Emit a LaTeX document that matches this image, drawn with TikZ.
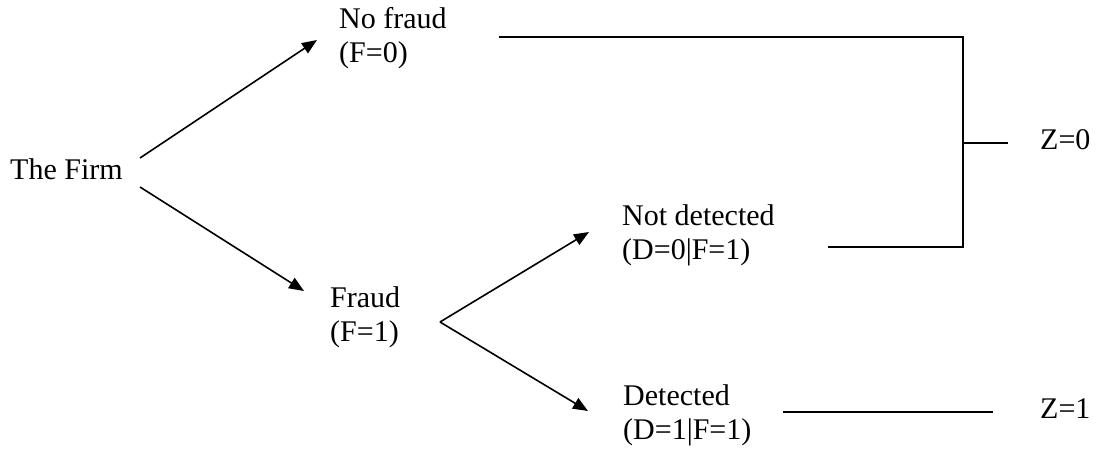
\documentclass[tikz,border=0pt]{standalone}
\usepackage{fontspec}
\setmainfont{Liberation Serif}
\usetikzlibrary{arrows.meta}
\begin{document}
\begin{tikzpicture}[x=1pt,y=-1pt,
  lbl/.style={anchor=base west,inner sep=0pt,font=\fontsize{30}{34}\selectfont},
  arr/.style={line width=1.6pt,-{Triangle[length=15pt,width=12pt]}},
  ln/.style={line width=1.8pt}]
\useasboundingbox (0,0) rectangle (1101,448);
% labels
\node[lbl] (firm) at (10,179) {The Firm};
\node[lbl] (nf1) at (339,28) {No fraud};
\node[lbl] (nf2) at (339,62) {(F=0)};
\node[lbl] (fr1) at (330,307) {Fraud};
\node[lbl] (fr2) at (330,341) {(F=1)};
\node[lbl] (nd1) at (622,225) {Not detected};
\node[lbl] (nd2) at (622,259) {(D=0|F=1)};
\node[lbl] (de1) at (623,405) {Detected};
\node[lbl] (de2) at (623,439) {(D=1|F=1)};
\node[lbl] (z0) at (1040,149) {Z=0};
\node[lbl] (z1) at (1040,418) {Z=1};
% connector points
\coordinate (firmU) at (140,158);
\coordinate (firmD) at (140,187);
\coordinate (nfIn) at (317,40);
\coordinate (frIn) at (304,291);
\coordinate (frOut) at (440,322);
\coordinate (ndIn) at (589,232);
\coordinate (deIn) at (588,411);
\coordinate (nfOut) at (499,37);
\coordinate (ndOut) at (828,247);
\coordinate (topR) at (963,37);
\coordinate (botR) at (963,247);
\coordinate (midR) at (963,143);
\coordinate (z0In) at (1008,143);
\coordinate (deOut) at (783,412);
\coordinate (z1In) at (993,412);
% arrows
\draw[arr] (firmU) -- (nfIn);
\draw[arr] (firmD) -- (frIn);
\draw[arr] (frOut) -- (ndIn);
\draw[arr] (frOut) -- (deIn);
% lines
\draw[ln] (nfOut) -- (topR) -- (botR) -- (ndOut);
\draw[ln] (midR) -- (z0In);
\draw[ln] (deOut) -- (z1In);
\end{tikzpicture}
\end{document}
